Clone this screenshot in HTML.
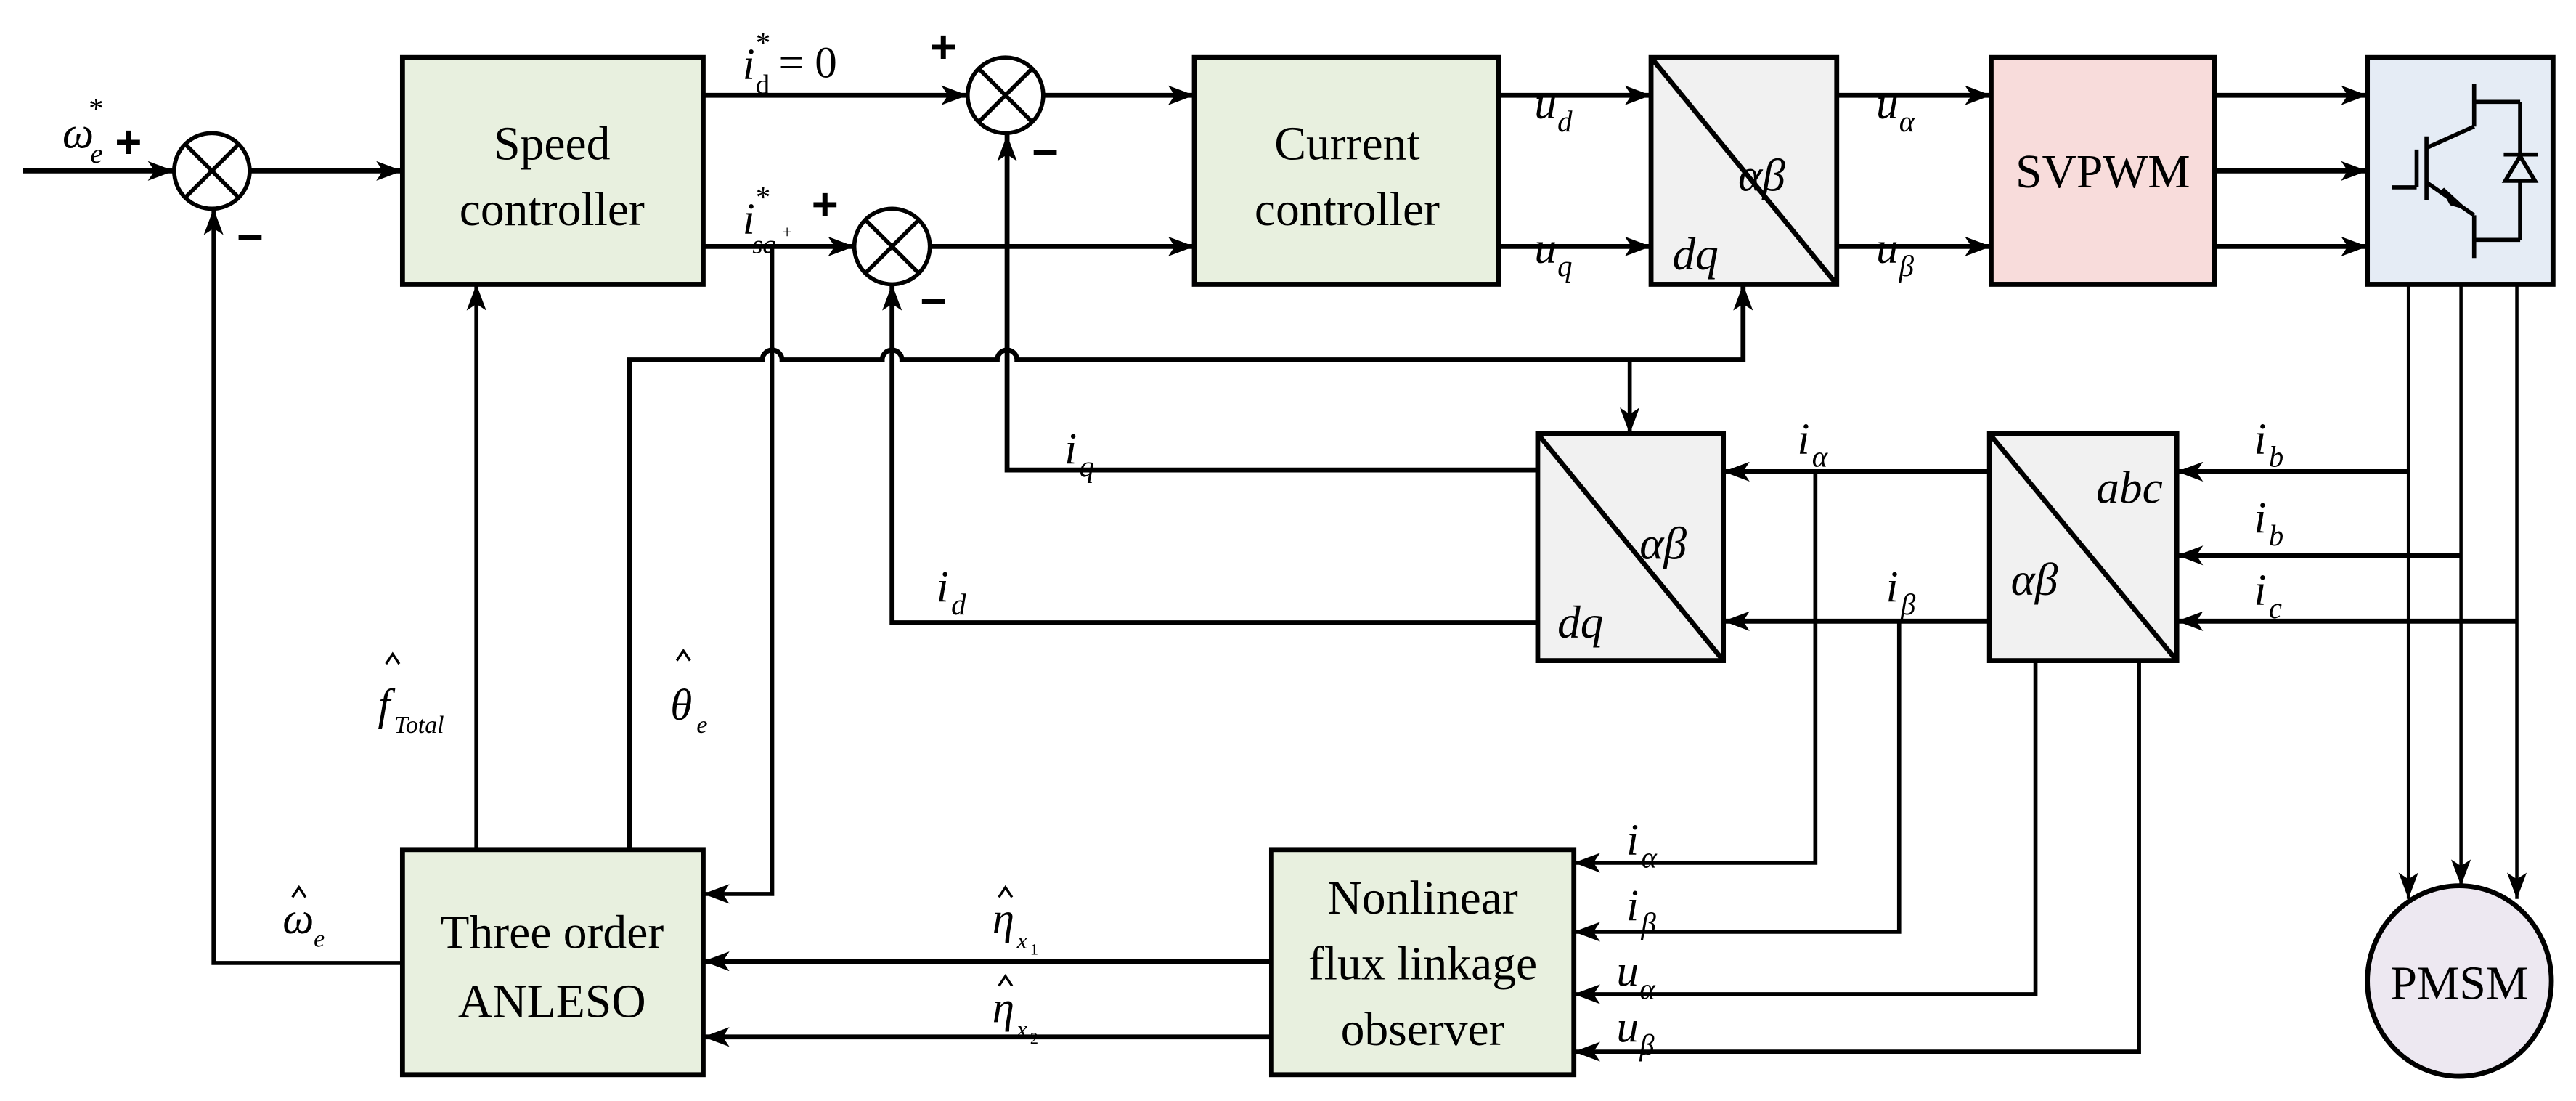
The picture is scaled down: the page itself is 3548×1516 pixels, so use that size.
<!DOCTYPE html>
<html><head><meta charset="utf-8"><style>
html,body{margin:0;padding:0;background:#fff}
svg{display:block}
text{font-family:"Liberation Serif",serif;fill:#000}
.m{font-style:italic}
</style></head><body>
<svg width="3548" height="1516" viewBox="0 0 1568 670" preserveAspectRatio="none" xmlns="http://www.w3.org/2000/svg">
<defs>
<marker id="a" viewBox="0 0 16 12" refX="16" refY="6" markerWidth="16" markerHeight="12" orient="auto" markerUnits="userSpaceOnUse"><path d="M0,0 L16,6 L0,12 L4,6 z" fill="#000"/></marker>
</defs>
<g stroke="#000" stroke-width="3" fill="none">
<rect x="245" y="35" width="183" height="138" fill="#e8f0df"/>
<rect x="727" y="35" width="185" height="138" fill="#e8f0df"/>
<rect x="1005" y="35" width="113" height="138" fill="#f1f1f1"/>
<line x1="1005" y1="35" x2="1118" y2="173"/>
<rect x="1212" y="35" width="136" height="138" fill="#f8dcdb"/>
<rect x="1441" y="35" width="113" height="138" fill="#e5ecf5"/>
<rect x="936" y="264" width="113" height="138" fill="#f1f1f1"/>
<line x1="936" y1="264" x2="1049" y2="402"/>
<rect x="1211" y="264" width="114" height="138" fill="#f1f1f1"/>
<line x1="1211" y1="264" x2="1325" y2="402"/>
<rect x="245" y="517" width="183" height="137" fill="#e8f0df"/>
<rect x="774" y="517" width="184" height="137" fill="#e8f0df"/>
<ellipse cx="1497" cy="597" rx="56" ry="58" fill="#ede8f1"/>
<g stroke-width="2.5">
<circle cx="129" cy="104" r="23"/><line x1="113" y1="88" x2="145" y2="120"/><line x1="145" y1="88" x2="113" y2="120"/>
<circle cx="612" cy="58" r="23"/><line x1="596" y1="42" x2="628" y2="74"/><line x1="628" y1="42" x2="596" y2="74"/>
<circle cx="543" cy="150" r="23"/><line x1="527" y1="134" x2="559" y2="166"/><line x1="559" y1="134" x2="527" y2="166"/>
</g>
<line x1="14" y1="104" x2="106" y2="104" marker-end="url(#a)"/>
<line x1="152" y1="104" x2="245" y2="104" marker-end="url(#a)"/>
<line x1="428" y1="58" x2="589" y2="58" marker-end="url(#a)"/>
<line x1="635" y1="58" x2="727" y2="58" marker-end="url(#a)"/>
<line x1="428" y1="150" x2="520" y2="150" marker-end="url(#a)"/>
<line x1="566" y1="150" x2="727" y2="150" marker-end="url(#a)"/>
<line x1="912" y1="58" x2="1005" y2="58" marker-end="url(#a)"/>
<line x1="912" y1="150" x2="1005" y2="150" marker-end="url(#a)"/>
<line x1="1118" y1="58" x2="1212" y2="58" marker-end="url(#a)"/>
<line x1="1118" y1="150" x2="1212" y2="150" marker-end="url(#a)"/>
<line x1="1348" y1="58" x2="1441" y2="58" marker-end="url(#a)"/>
<line x1="1348" y1="104" x2="1441" y2="104" marker-end="url(#a)"/>
<line x1="1348" y1="150" x2="1441" y2="150" marker-end="url(#a)"/>
<g stroke-width="2.5">
<line x1="1506" y1="51" x2="1506" y2="77"/><line x1="1506" y1="77" x2="1477" y2="90"/>
<line x1="1477" y1="83" x2="1477" y2="122"/>
<line x1="1471" y1="91" x2="1471" y2="114"/><line x1="1456" y1="114" x2="1471" y2="114"/>
<line x1="1477" y1="111" x2="1506" y2="131"/><line x1="1506" y1="131" x2="1506" y2="157"/>
<line x1="1506" y1="62" x2="1534" y2="62"/><line x1="1506" y1="146" x2="1534" y2="146"/>
<line x1="1534" y1="62" x2="1534" y2="146"/>
<line x1="1524" y1="94" x2="1545" y2="94"/>
</g>
<path d="M1534,95 L1525,110 L1543,110 Z" fill="#e5ecf5" stroke-width="2.5"/>
<path d="M1499,126 L1487,115 L1492,124 Z" fill="#000" stroke-width="2"/>
<g stroke-width="2">
<line x1="1466" y1="173" x2="1466" y2="547" marker-end="url(#a)"/>
<line x1="1498" y1="173" x2="1498" y2="539" marker-end="url(#a)"/>
<line x1="1532" y1="173" x2="1532" y2="547" marker-end="url(#a)"/>
</g>
<line x1="1466" y1="287" x2="1325" y2="287" marker-end="url(#a)"/>
<line x1="1498" y1="338" x2="1325" y2="338" marker-end="url(#a)"/>
<line x1="1532" y1="378" x2="1325" y2="378" marker-end="url(#a)"/>
<line x1="1211" y1="287" x2="1049" y2="287" marker-end="url(#a)"/>
<line x1="1211" y1="378" x2="1049" y2="378" marker-end="url(#a)"/>
<polyline points="936,286 613,286 613,82" marker-end="url(#a)"/>
<polyline points="936,379 543,379 543,173" marker-end="url(#a)"/>
<path d="M383,517 L383,219 L464,219 A6,6 0 0 1 476,219 L537,219 A6,6 0 0 1 549,219 L607,219 A6,6 0 0 1 619,219 L1061,219 L1061,173" marker-end="url(#a)"/>
<line x1="992" y1="219" x2="992" y2="264" stroke-width="2.5" marker-end="url(#a)"/>
<polyline points="470,150 470,544 428,544" stroke-width="2.5" marker-end="url(#a)"/>
<line x1="290" y1="517" x2="290" y2="173" stroke-width="2.5" marker-end="url(#a)"/>
<polyline points="245,586 130,586 130,127" stroke-width="2.5" marker-end="url(#a)"/>
<line x1="774" y1="585" x2="428" y2="585" marker-end="url(#a)"/>
<line x1="774" y1="631" x2="428" y2="631" marker-end="url(#a)"/>
<polyline points="1105,287 1105,525 958,525" stroke-width="2.5" marker-end="url(#a)"/>
<polyline points="1156,378 1156,567 958,567" stroke-width="2.5" marker-end="url(#a)"/>
<polyline points="1239,402 1239,605 958,605" stroke-width="2.5" marker-end="url(#a)"/>
<polyline points="1302,402 1302,640 958,640" stroke-width="2.5" marker-end="url(#a)"/>
<!-- hats -->
<g stroke-width="1.5">
<polyline points="235,404 239,398 243,404"/>
<polyline points="412,402 416,396 420,402"/>
<polyline points="178,546 182,540 186,546"/>
<polyline points="608,546 612,540 616,546"/>
<polyline points="608,600 612,594 616,600"/>
</g>
</g>
<g font-size="29" text-anchor="middle">
<text x="336" y="97">Speed</text><text x="336" y="137">controller</text>
<text x="820" y="97">Current</text><text x="820" y="137">controller</text>
<text x="1280" y="114">SVPWM</text>
<text x="336" y="577">Three order</text><text x="336" y="619">ANLESO</text>
<text x="866" y="556">Nonlinear</text><text x="866" y="596">flux linkage</text><text x="866" y="636">observer</text>
<text x="1497" y="608">PMSM</text>
</g>
<g font-size="28">
<text x="1058" y="116" class="m">αβ</text><text x="1018" y="164" class="m">dq</text>
<text x="998" y="340" class="m">αβ</text><text x="948" y="388" class="m">dq</text>
<text x="1276" y="306" class="m">abc</text><text x="1224" y="362" class="m">αβ</text>
</g>
<g font-size="27">
<text x="38" y="90" class="m">ω</text><text x="55" y="99" font-size="17" class="m">e</text><text x="54" y="72" font-size="18">*</text>
<text x="452" y="48" class="m">i</text><text x="460" y="57" font-size="17">d</text><text x="460" y="32" font-size="18">*</text><text x="474" y="47">= 0</text>
<text x="452" y="142" class="m">i</text><text x="458" y="154" font-size="16" class="m">sq</text><text x="476" y="145" font-size="11">+</text><text x="460" y="126" font-size="18">*</text>
<text x="934" y="72" class="m">u</text><text x="948" y="80" font-size="18" class="m">d</text>
<text x="934" y="160" class="m">u</text><text x="948" y="168" font-size="18" class="m">q</text>
<text x="1142" y="72" class="m">u</text><text x="1156" y="80" font-size="18" class="m">α</text>
<text x="1142" y="160" class="m">u</text><text x="1156" y="168" font-size="18" class="m">β</text>
<text x="648" y="282" class="m">i</text><text x="657" y="290" font-size="18" class="m">q</text>
<text x="570" y="366" class="m">i</text><text x="579" y="374" font-size="18" class="m">d</text>
<text x="1094" y="276" class="m">i</text><text x="1103" y="284" font-size="18" class="m">α</text>
<text x="1148" y="366" class="m">i</text><text x="1157" y="374" font-size="18" class="m">β</text>
<text x="1372" y="276" class="m">i</text><text x="1381" y="284" font-size="18" class="m">b</text>
<text x="1372" y="324" class="m">i</text><text x="1381" y="332" font-size="18" class="m">b</text>
<text x="1372" y="368" class="m">i</text><text x="1381" y="376" font-size="18" class="m">c</text>
<text x="990" y="520" class="m">i</text><text x="999" y="528" font-size="18" class="m">α</text>
<text x="990" y="560" class="m">i</text><text x="999" y="568" font-size="18" class="m">β</text>
<text x="984" y="600" class="m">u</text><text x="998" y="608" font-size="18" class="m">α</text>
<text x="984" y="634" class="m">u</text><text x="998" y="642" font-size="18" class="m">β</text>
<text x="230" y="438" class="m">f</text><text x="240" y="446" font-size="15" class="m">Total</text>
<text x="408" y="438" class="m">θ</text><text x="424" y="446" font-size="15" class="m">e</text>
<text x="172" y="568" class="m">ω</text><text x="191" y="576" font-size="15" class="m">e</text>
<text x="604" y="568" class="m">η</text><text x="619" y="577" font-size="14" class="m">x</text><text x="627" y="581" font-size="10">1</text>
<text x="604" y="622" class="m">η</text><text x="619" y="631" font-size="14" class="m">x</text><text x="627" y="635" font-size="10">2</text>
</g>
<g font-weight="bold" font-size="28" style="font-family:'Liberation Sans',sans-serif">
<text x="70" y="96" style="font-family:'Liberation Sans',sans-serif">+</text>
<text x="144" y="154" style="font-family:'Liberation Sans',sans-serif">−</text>
<text x="566" y="38" style="font-family:'Liberation Sans',sans-serif">+</text>
<text x="628" y="102" style="font-family:'Liberation Sans',sans-serif">−</text>
<text x="494" y="134" style="font-family:'Liberation Sans',sans-serif">+</text>
<text x="560" y="193" style="font-family:'Liberation Sans',sans-serif">−</text>
</g>
</svg>
</body></html>
